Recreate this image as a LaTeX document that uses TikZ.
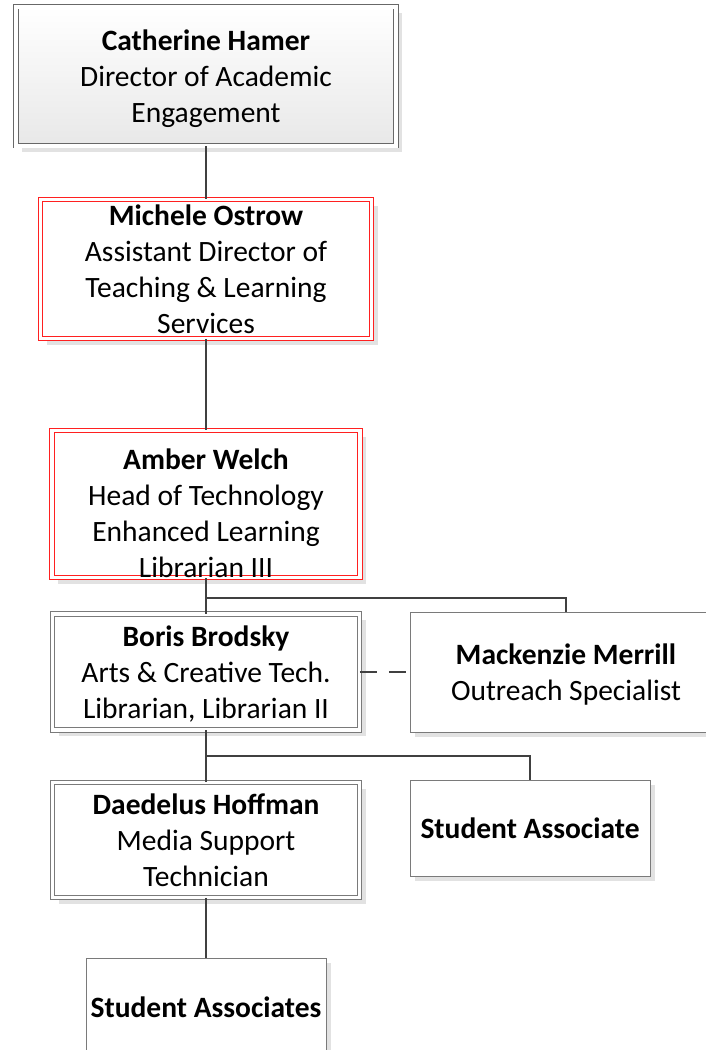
\documentclass[tikz,border=0pt]{standalone}
\usepackage{fontspec}
\setmainfont{Carlito}
\usetikzlibrary{shadows}

\definecolor{boxgrey}{HTML}{7A7A7A}
\definecolor{boxred}{HTML}{FF2020}
\definecolor{shadowgrey}{HTML}{E2E2E2}
\definecolor{linkgrey}{HTML}{404040}

\begin{document}
\begin{tikzpicture}[x=1pt, y=-1pt,
    every node/.style={align=center, inner sep=0pt, text depth=0pt, font=\fontsize{29.5}{36}\selectfont},
    dshadow/.style={drop shadow={shadow xshift=6pt, shadow yshift=-6pt, fill=shadowgrey, opacity=1}},
    dbox/.style={dshadow, draw=boxgrey, line width=0.9pt, double=white, double distance=3.6pt, fill=white},
    redbox/.style={dbox, draw=boxred},
    topbox/.style={dbox, draw=boxgrey!85!black, double distance=4pt, top color=white, bottom color=black!9},
    sbox/.style={draw=boxgrey, line width=0.9pt, fill=white, drop shadow={shadow xshift=5pt, shadow yshift=-5pt, fill=shadowgrey, opacity=1}},
    link/.style={draw=linkgrey, line width=2.3pt}]
    \useasboundingbox (0,0) rectangle (706,1050);
    % boxes, top to bottom
    \node[topbox, minimum width=380pt, minimum height=139pt] (hamer) at (206,76)
        {\textbf{Catherine Hamer}\\Director of Academic\\Engagement};
    \node[redbox, minimum width=331pt, minimum height=139pt] (ostrow) at (206,269)
        {\textbf{Michele Ostrow}\\Assistant Director of\\Teaching \& Learning\\Services};
    \node[redbox, minimum width=308pt, minimum height=147pt] (welch) at (206,504) {};
    \node (welchtext) at (206,513)
        {\textbf{Amber Welch}\\Head of Technology\\Enhanced Learning\\Librarian III};
    \node[dbox, minimum width=307pt, minimum height=116pt] (brodsky) at (206,672)
        {\textbf{Boris Brodsky}\\Arts \& Creative Tech.\\Librarian, Librarian II};
    \node[sbox, minimum width=312pt, minimum height=120pt] (merrill) at (566,672)
        {\textbf{Mackenzie Merrill}\\Outreach Specialist};
    \node[dbox, minimum width=307pt, minimum height=115pt] (hoffman) at (206,840)
        {\textbf{Daedelus Hoffman}\\Media Support\\Technician};
    \node[sbox, minimum width=240pt, minimum height=96pt] (assoc) at (530,828)
        {\textbf{Student Associate}};
    \node[sbox, minimum width=240pt, minimum height=98pt] (assocs) at (206,1007)
        {\textbf{Student Associates}};
    % reporting lines
    \coordinate (bus1) at (206,598);
    \coordinate (bus2) at (206,756);
    \draw[link] (hamer.south) -- (ostrow.north);
    \draw[link] (ostrow.south) -- (welch.north);
    \draw[link] (welch.south) -- (brodsky.north);
    \draw[link] (bus1) -| (merrill.north);
    \draw[link, dash pattern=on 17pt off 12pt] (brodsky.east) -- (merrill.west);
    \draw[link] (brodsky.south) -- (hoffman.north);
    \draw[link] (bus2) -| (assoc.north);
    \draw[link] (hoffman.south) -- (assocs.north);
\end{tikzpicture}
\end{document}
